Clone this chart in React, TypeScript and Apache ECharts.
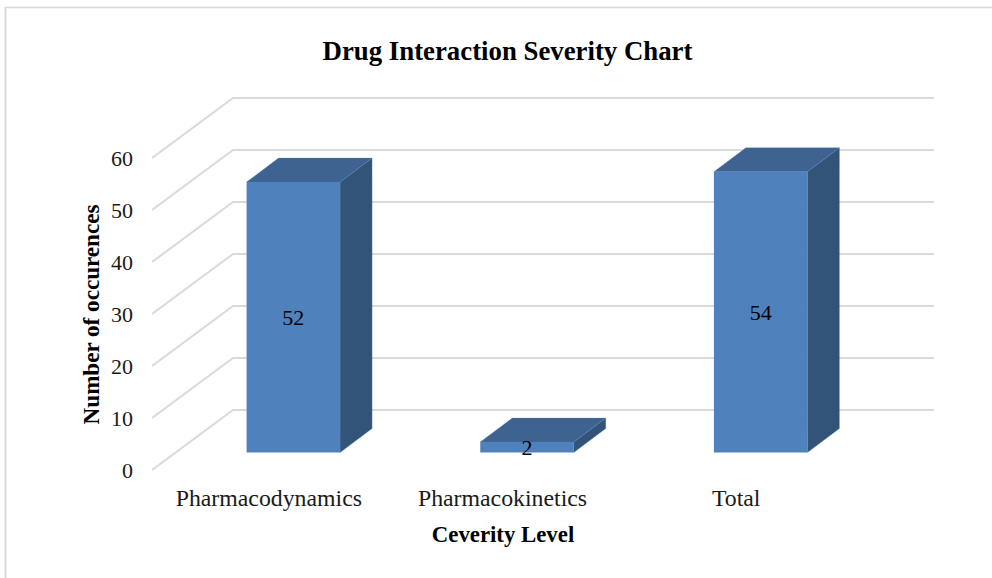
import React, { useEffect, useRef } from "react";
import * as echarts from "echarts";

const categories = ["Pharmacodynamics", "Pharmacokinetics", "Total"];
const occurrences = [52, 2, 54];
const yTicks = [0, 10, 20, 30, 40, 50, 60];

const titleText = "Drug Interaction Severity Chart";
const xAxisTitle = "Ceverity Level";
const yAxisTitle = "Number of occurences";

const FONT = "'Liberation Serif', serif";
const WALL = { dx: 81, dy: -60 };
const PLANE = { dx: 24.5, dy: -17.5 };
const DEPTH = { dx: 32, dy: -24 };
const BAR_W = 93.5;

export default function App() {
  const ref = useRef<HTMLDivElement>(null);
  useEffect(() => {
    const chart = echarts.init(ref.current!, undefined, { renderer: "svg" });
    chart.setOption({
      animation: false,
      backgroundColor: "#fff",
      title: {
        text: titleText,
        left: 502.5,
        top: 32,
        textAlign: "center",
        textStyle: { fontFamily: FONT, fontSize: 26.8, fontWeight: "bold", color: "#000" },
      },
      graphic: [
        { type: "line", shape: { x1: 5.5, y1: 7, x2: 5.5, y2: 578 }, style: { stroke: "#D9D9D9", lineWidth: 2 } },
        { type: "line", shape: { x1: 5, y1: 7.5, x2: 992, y2: 7.5 }, style: { stroke: "#D9D9D9", lineWidth: 1.5 } },
        {
          type: "text", x: 503, y: 534,
          style: { text: xAxisTitle, x: 0, y: 0, align: "center", verticalAlign: "middle", fontFamily: FONT, fontSize: 22.8, fontWeight: "bold", fill: "#000" },
        },
        {
          type: "text", x: 90.5, y: 314.5, rotation: Math.PI / 2,
          style: { text: yAxisTitle, x: 0, y: 0, align: "center", verticalAlign: "middle", fontFamily: FONT, fontSize: 23.1, fontWeight: "bold", fill: "#000" },
        },
      ],
      grid: { left: 152, width: 701, top: 158, height: 312 },
      xAxis: {
        type: "category",
        data: categories,
        axisLine: { show: false },
        axisTick: { show: false },
        splitLine: { show: false },
        axisLabel: { interval: 0, hideOverlap: false, fontFamily: FONT, fontSize: 23.8, color: "#1a1a1a", margin: 16 },
      },
      yAxis: {
        type: "value",
        min: 0,
        max: 60,
        interval: 10,
        axisLine: { show: false },
        axisTick: { show: false },
        splitLine: { show: false },
        axisLabel: { fontFamily: FONT, fontSize: 22, color: "#1a1a1a", margin: 19 },
      },
      series: [
        {
          type: "custom",
          coordinateSystem: "cartesian2d",
          silent: true,
          z: 1,
          encode: { x: 0, y: 1 },
          data: yTicks.map((t) => [categories[0], t]),
          renderItem: (_p: any, api: any) => {
            const y = api.coord([0, api.value(1)])[1];
            const left = 152;
            const right = 853;
            return {
              type: "polyline",
              shape: {
                points: [
                  [left, y],
                  [left + WALL.dx, y + WALL.dy],
                  [right + WALL.dx, y + WALL.dy],
                ],
              },
              style: { fill: "none", stroke: "#D9D9D9", lineWidth: 2 },
            };
          },
        },
        {
          type: "custom",
          coordinateSystem: "cartesian2d",
          silent: true,
          z: 2,
          encode: { x: 0, y: 1 },
          data: categories.map((c, i) => [c, occurrences[i]]),
          renderItem: (_p: any, api: any) => {
            const cat = api.value(0);
            const val = api.value(1);
            const top = api.coord([cat, val]);
            const base = api.coord([cat, 0]);
            const x0 = top[0] + PLANE.dx - BAR_W / 2;
            const x1 = x0 + BAR_W;
            const yT = top[1] + PLANE.dy;
            const yB = base[1] + PLANE.dy;
            const { dx, dy } = DEPTH;
            return {
              type: "group",
              children: [
                {
                  type: "polygon",
                  shape: { points: [[x1, yT], [x1 + dx, yT + dy], [x1 + dx, yB + dy], [x1, yB]] },
                  style: { fill: "#325479", stroke: "#4F81BD", lineWidth: 0.3 },
                },
                {
                  type: "polygon",
                  shape: { points: [[x0, yT], [x0 + dx, yT + dy], [x1 + dx, yT + dy], [x1, yT]] },
                  style: { fill: "#3E6390", stroke: "#4F81BD", lineWidth: 0.3 },
                },
                {
                  type: "rect",
                  shape: { x: x0, y: yT, width: BAR_W, height: yB - yT },
                  style: { fill: "#4F81BD" },
                },
                {
                  type: "text",
                  style: {
                    text: String(val),
                    x: (x0 + x1) / 2,
                    y: (yT + yB) / 2,
                    align: "center",
                    verticalAlign: "middle",
                    fontFamily: FONT,
                    fontSize: 22,
                    fill: "#000",
                  },
                },
              ],
            };
          },
        },
      ],
    });
    return () => chart.dispose();
  }, []);
  return <div ref={ref} style={{ position: "absolute", left: 0, top: 0, width: 992, height: 578 }} />;
}
